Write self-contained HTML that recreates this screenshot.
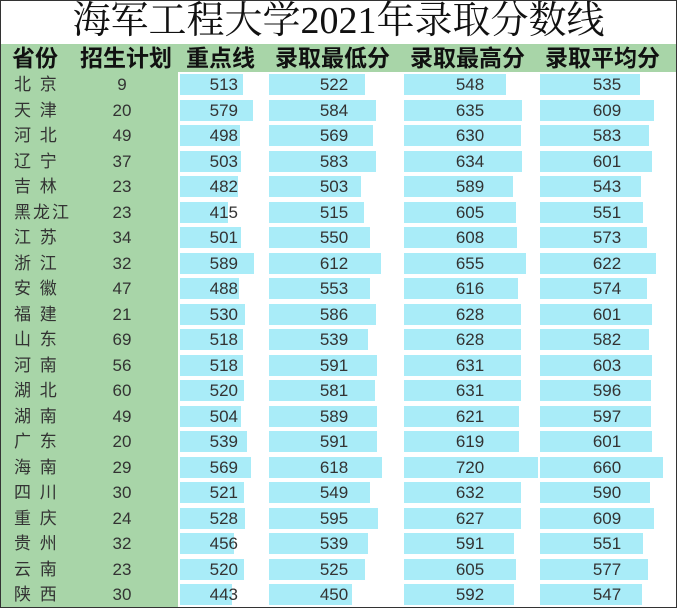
<!DOCTYPE html>
<html><head><meta charset="utf-8"><style>
body{margin:0;background:#fff;}
#w{position:relative;width:677px;height:608px;overflow:hidden;font-family:"Liberation Sans","Noto Sans CJK SC",sans-serif;}
.b{position:absolute;background:#a9ecf8;height:21px;}
.t{position:absolute;font-size:17px;color:#333;line-height:25px;}
.h{position:absolute;top:44px;font-size:23px;font-weight:bold;color:#111;line-height:29px;}
</style></head><body><div id="w">
<div style="position:absolute;left:0;top:0;width:675px;height:606px;border:1px solid #333;"></div>
<div style="position:absolute;left:0;top:-2px;width:677px;text-align:center;font-family:'Liberation Serif','Noto Serif CJK SC',serif;font-size:38px;line-height:46px;color:#111;">海军工程大学2021年录取分数线</div>
<div style="position:absolute;left:1px;top:44px;width:675px;height:28px;background:#a8d5a8;"></div>
<div style="position:absolute;left:1px;top:72px;width:177px;height:535px;background:#a8d5a8;"></div>
<div class="h" style="left:12px">省份</div>
<div class="h" style="left:80px">招生计划</div>
<div class="h" style="left:186px">重点线</div>
<div class="h" style="left:275px">录取最低分</div>
<div class="h" style="left:410px">录取最高分</div>
<div class="h" style="left:545px">录取平均分</div>
<div id="rows"></div>
</div>
<script>
var d=[["北 京",9,513,522,548,535],["天 津",20,579,584,635,609],["河 北",49,498,569,630,583],["辽 宁",37,503,583,634,601],["吉 林",23,482,503,589,543],["黑龙江",23,415,515,605,551],["江 苏",34,501,550,608,573],["浙 江",32,589,612,655,622],["安 徽",47,488,553,616,574],["福 建",21,530,586,628,601],["山 东",69,518,539,628,582],["河 南",56,518,591,631,603],["湖 北",60,520,581,631,596],["湖 南",49,504,589,621,597],["广 东",20,539,591,619,601],["海 南",29,569,618,720,660],["四 川",30,521,549,632,590],["重 庆",24,528,595,627,609],["贵 州",32,456,539,591,551],["云 南",23,520,525,605,577],["陕 西",30,443,450,592,547]];
var h="";
d.forEach(function(r,i){var y=72+25.5*i;
var w3=48+0.15*(r[2]-415),w4=83+0.178*(r[3]-450),w5=110+0.186*(r[4]-592),w6=102+0.186*(r[5]-547);
h+='<div class="b" style="left:180px;top:'+(y+2)+'px;width:'+w3+'px"></div>';
h+='<div class="b" style="left:269px;top:'+(y+2)+'px;width:'+w4+'px"></div>';
h+='<div class="b" style="left:404px;top:'+(y+2)+'px;width:'+w5+'px"></div>';
h+='<div class="b" style="left:540px;top:'+(y+2)+'px;width:'+w6+'px"></div>';
h+='<div class="t" style="left:14px;top:'+y+'px;letter-spacing:2px">'+r[0]+'</div>';
h+='<div class="t" style="left:92px;width:60px;text-align:center;top:'+y+'px">'+r[1]+'</div>';
h+='<div class="t" style="left:180px;width:58px;text-align:right;top:'+y+'px">'+r[2]+'</div>';
h+='<div class="t" style="left:294px;width:80px;text-align:center;top:'+y+'px">'+r[3]+'</div>';
h+='<div class="t" style="left:430px;width:80px;text-align:center;top:'+y+'px">'+r[4]+'</div>';
h+='<div class="t" style="left:567px;width:80px;text-align:center;top:'+y+'px">'+r[5]+'</div>';
});
document.getElementById("rows").innerHTML=h;
</script>
</body></html>
